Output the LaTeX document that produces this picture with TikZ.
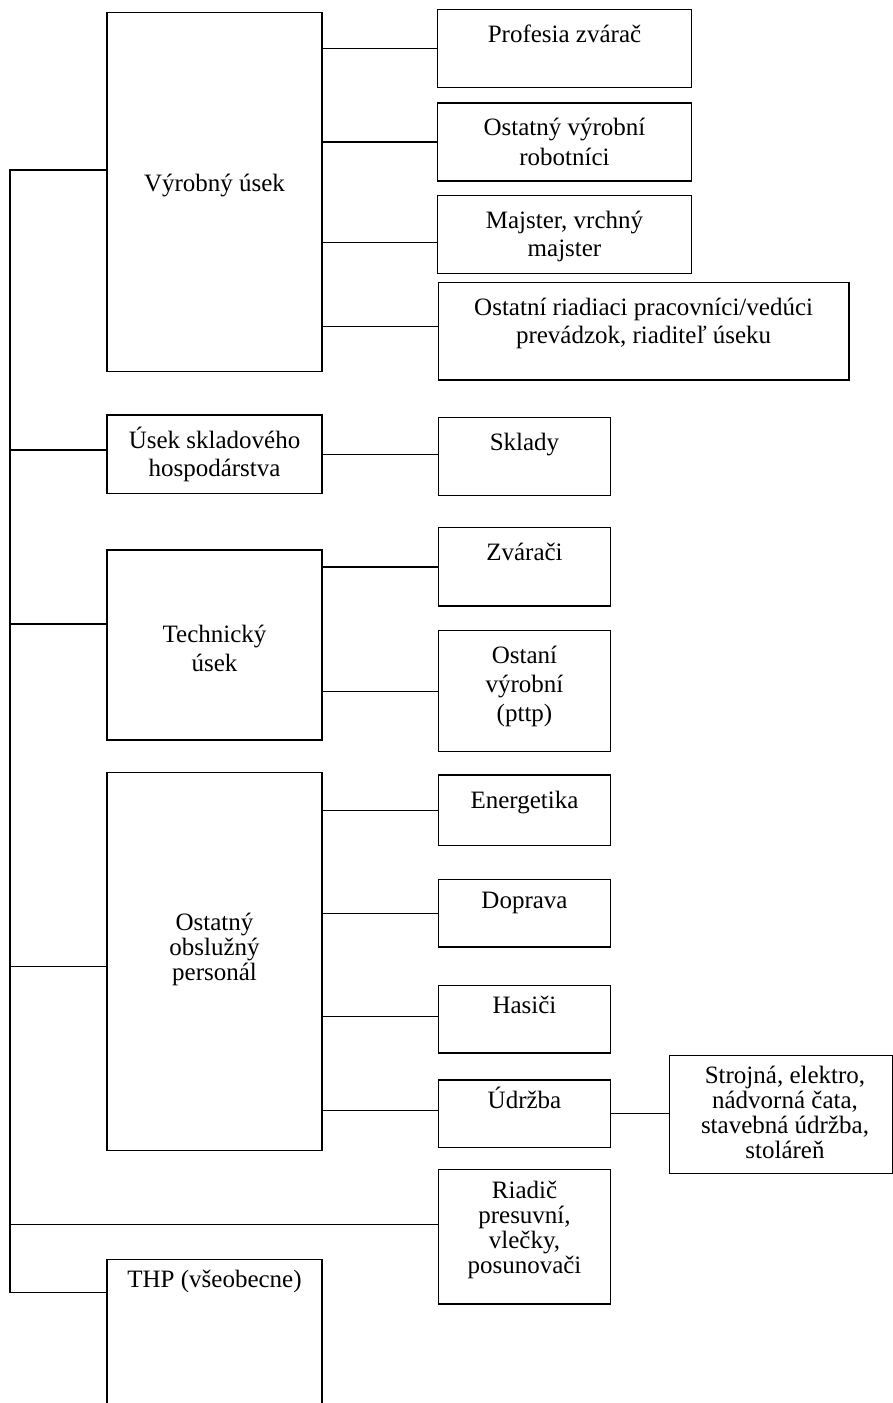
\documentclass[tikz,border=0pt]{standalone}
\usepackage{fontspec}
\setmainfont{Liberation Serif}
\usetikzlibrary{fit}
\newcommand{\mytab}[2]{\fontsize{12.5pt}{#1}\selectfont\begin{tabular}[t]{@{}c@{}}#2\end{tabular}}
\begin{document}
\begin{tikzpicture}[x=0.5pt,y=-0.5pt,line width=0.65pt,
  box/.style={draw,inner sep=0pt,line width=0.65pt},
  txt/.style={anchor=base,inner sep=0pt},
  conn/.style={draw,line width=0.65pt}]
\useasboundingbox (0,0) rectangle (893,1403);
% boxes
\node[box,fit={(107,12.7)(322,371.7)}] (vyr) {};
\node[box,fit={(437.5,9.7)(691.5,87.7)}] (prof) {};
\node[box,fit={(437.5,103)(691.5,181)}] (ostv) {};
\node[box,fit={(437.5,195.3)(691.5,273.3)}] (maj) {};
\node[box,fit={(438.3,282.7)(849,380)}] (ria) {};
\node[box,fit={(107,415)(322,493.3)}] (skl) {};
\node[box,fit={(438.3,417.3)(610.7,495.7)}] (sklady) {};
\node[box,fit={(107,550)(322,740)}] (tech) {};
\node[box,fit={(438.3,527.7)(610.7,606)}] (zv) {};
\node[box,fit={(438.3,630.7)(610.7,751.7)}] (ost) {};
\node[box,fit={(107,772.3)(322,1150.7)}] (obsl) {};
\node[box,fit={(438.3,775)(610.7,845.7)}] (ener) {};
\node[box,fit={(438.3,879.7)(610.7,947)}] (dop) {};
\node[box,fit={(438.3,985.7)(610.7,1053)}] (has) {};
\node[box,fit={(438.3,1080)(610.7,1147.3)}] (udr) {};
\node[box,fit={(669.3,1055.7)(892.5,1173.3)}] (str) {};
\node[box,fit={(438.3,1169.7)(610.7,1304)}] (riad) {};
\node[box,fit={(107,1259.3)(322,1430)}] (thp) {};
% texts
\node[txt] (vyr-t) at (214.5,191.7) {\mytab{15pt}{Výrobný úsek}};
\node[txt] (prof-t) at (564.5,42.7) {\mytab{15pt}{Profesia zvárač}};
\node[txt] (ostv-t) at (564.5,135) {\mytab{15pt}{Ostatný výrobní\\robotníci}};
\node[txt] (maj-t) at (564.5,228.3) {\mytab{14pt}{Majster, vrchný\\majster}};
\node[txt] (ria-t) at (643.6,315) {\mytab{14pt}{Ostatní riadiaci pracovníci/vedúci\\prevádzok, riaditeľ úseku}};
\node[txt] (skl-t) at (214.5,448.3) {\mytab{14.2pt}{Úsek skladového\\hospodárstva}};
\node[txt] (sklady-t) at (524.5,450.7) {\mytab{15pt}{Sklady}};
\node[txt] (tech-t) at (214.5,642.7) {\mytab{14.5pt}{Technický\\úsek}};
\node[txt] (zv-t) at (524.5,560) {\mytab{15pt}{Zvárači}};
\node[txt] (ost-t) at (524.5,663.3) {\mytab{14.5pt}{Ostaní\\výrobní\\(pttp)}};
\node[txt] (obsl-t) at (214.5,930) {\mytab{12.7pt}{Ostatný\\obslužný\\personál}};
\node[txt] (ener-t) at (524.5,808.3) {\mytab{15pt}{Energetika}};
\node[txt] (dop-t) at (524.5,908.3) {\mytab{15pt}{Doprava}};
\node[txt] (has-t) at (524.5,1013.3) {\mytab{15pt}{Hasiči}};
\node[txt] (udr-t) at (524.5,1108.3) {\mytab{15pt}{Údržba}};
\node[txt] (str-t) at (785,1083.3) {\mytab{12.5pt}{Strojná, elektro,\\nádvorná čata,\\stavebná údržba,\\stoláreň}};
\node[txt] (riad-t) at (524.5,1198.3) {\mytab{12.5pt}{Riadič\\presuvní,\\vlečky,\\posunovači}};
\node[txt] (thp-t) at (214.5,1287.3) {\mytab{15pt}{THP (všeobecne)}};
% connector anchor points
\coordinate (t0) at (10,170);
\coordinate (t1) at (10,1292.7);
\coordinate (majc) at ([yshift=-4pt]maj.west);
\coordinate (riac) at ([yshift=2.3pt]ria.west);
\coordinate (hasc) at ([yshift=1.5pt]has.west);
\coordinate (udrc) at ([yshift=1.7pt]udr.west);
\coordinate (sklt) at ([yshift=2.1pt]skl.west);
\coordinate (techt) at ([yshift=10.5pt]tech.west);
\coordinate (obslt) at ([yshift=-2.6pt]obsl.west);
\coordinate (riadt) at ([yshift=6.3pt]riad.west);
% connectors
\draw[conn] (vyr.west |- t0) -- (t0) -- (t1) -- (t1 -| thp.west);
\draw[conn] (sklt) -- (sklt -| t0);
\draw[conn] (techt) -- (techt -| t0);
\draw[conn] (obslt) -- (obslt -| t0);
\draw[conn] (riadt) -- (riadt -| t0);
\draw[conn] (vyr.east |- prof.west) -- (prof.west);
\draw[conn] (vyr.east |- ostv.west) -- (ostv.west);
\draw[conn] (vyr.east |- majc) -- (majc);
\draw[conn] (vyr.east |- riac) -- (riac);
\draw[conn] (skl.east) -- (skl.east -| sklady.west);
\draw[conn] (tech.east |- zv.west) -- (zv.west);
\draw[conn] (tech.east |- ost.west) -- (ost.west);
\draw[conn] (obsl.east |- ener.west) -- (ener.west);
\draw[conn] (obsl.east |- dop.west) -- (dop.west);
\draw[conn] (obsl.east |- hasc) -- (hasc);
\draw[conn] (obsl.east |- udrc) -- (udrc);
\draw[conn] (udr.east) -- (udr.east -| str.west);
\end{tikzpicture}
\end{document}
